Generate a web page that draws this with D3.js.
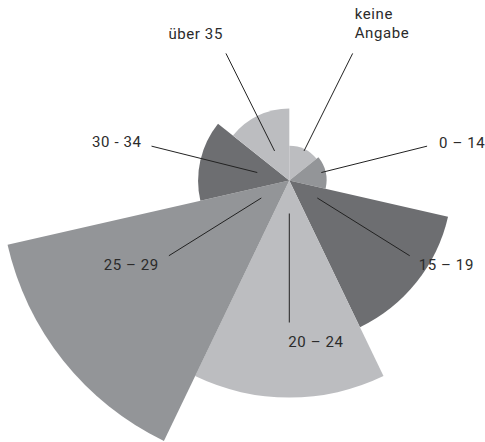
<!DOCTYPE html>
<html>
<head>
<meta charset="utf-8">
<script src="https://cdn.jsdelivr.net/npm/d3@7"></script>
<style>
  body { margin: 0; background: #fff; }
  text { font-family: Roboto, "Noto Sans", sans-serif; font-size: 15px; fill: #2b2b2b; letter-spacing: 0.6px; }
</style>
</head>
<body>
<div id="chart-area"></div>
<script>
// Altersgruppen, im Uhrzeigersinn ab 12 Uhr
var categories = ["keine Angabe", "0 – 14", "15 – 19", "20 – 24", "25 – 29", "30 - 34", "über 35"];
// Anteile in Prozent (Fläche der Segmente)
var values = [0.7, 0.8, 15.3, 27.2, 48.2, 4.8, 3.0];

var colours = ["#bcbdc0", "#939598", "#6d6e71", "#bcbdc0", "#939598", "#6d6e71", "#bcbdc0"];

// leader line angle (deg) and text offset from line end
var leaderAngle = [26.5, 76, 122, 180, 238, 284, 333.5];
var labelOffset = [[2, -34, "start"], [12, 2, "start"], [9, 14, "start"], [-1, 24, "start"],
                   [-10, 14, "end"], [-10, 1, "end"], [-3, -14, "end"]];

var width = 485, height = 442;
var cx = 289.3, cy = 180.5;

var svg = d3.select("#chart-area")
    .append("svg")
    .attr("width", width)
    .attr("height", height);

var g = svg.append("g")
    .attr("transform", "translate(" + cx + ", " + cy + ")");

var r = d3.scaleSqrt()
    .domain([0, d3.max(values)])
    .range([0, 289]);

var step = 2 * Math.PI / categories.length;

var arc = d3.arc()
    .innerRadius(0)
    .outerRadius(function(d, i){ return r(d); })
    .startAngle(function(d, i){ return i * step; })
    .endAngle(function(d, i){ return (i + 1) * step; });

g.selectAll("path")
    .data(values)
    .enter()
    .append("path")
    .attr("d", function(d, i){ return arc(d, i); })
    .attr("fill", function(d, i){ return colours[i]; });

// leader lines
var rIn = 33, rOut = 142;
function pt(a, rad) {
    var t = a * Math.PI / 180;
    return [rad * Math.sin(t), -rad * Math.cos(t)];
}

categories.forEach(function(c, i){
    var p0 = pt(leaderAngle[i], rIn), p1 = pt(leaderAngle[i], rOut);
    g.append("line")
        .attr("x1", p0[0]).attr("y1", p0[1])
        .attr("x2", p1[0]).attr("y2", p1[1])
        .attr("stroke", "#222")
        .attr("stroke-width", 1);

    var off = labelOffset[i];
    var txt = g.append("text")
        .attr("x", p1[0] + off[0])
        .attr("y", p1[1] + off[1])
        .attr("text-anchor", off[2]);
    var parts = c == "keine Angabe" ? ["keine", "Angabe"] : [c];
    parts.forEach(function(p, j){
        txt.append("tspan")
            .attr("x", p1[0] + off[0])
            .attr("dy", j == 0 ? 0 : 18.5)
            .text(p);
    });
});
</script>
</body>
</html>
